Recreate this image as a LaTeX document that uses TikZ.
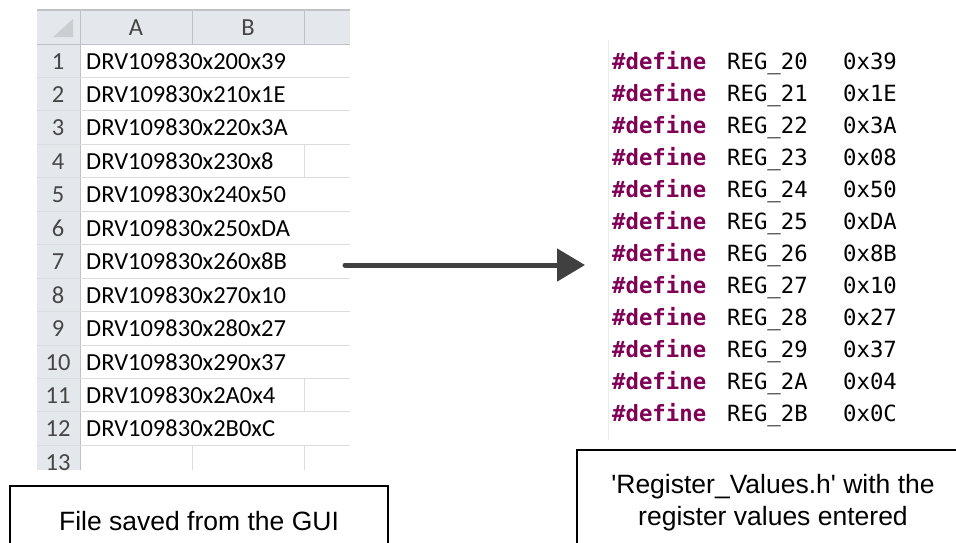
\documentclass[tikz,border=0pt]{standalone}
\usepackage{fontspec}
\newfontfamily\boxfont{Liberation Sans}
\newfontfamily\cellfont{Carlito}
\newfontfamily\codefont{DejaVu Sans Mono}
\usetikzlibrary{arrows.meta}
\definecolor{hdrgray}{RGB}{228,231,236}
\definecolor{gridgray}{RGB}{218,220,222}
\definecolor{sepgray}{RGB}{190,193,198}
\definecolor{numgray}{RGB}{70,70,70}
\definecolor{defpurple}{RGB}{127,0,85}
\definecolor{arrowgray}{RGB}{64,64,64}
\begin{document}
\begin{tikzpicture}
% 1 unit = 1 px of the 956x542 picture, y runs down
[x=1pt,y=-1pt,
 cell/.style={font=\cellfont\fontsize{24.5}{26}\selectfont,anchor=base west,inner sep=0pt},
 rownum/.style={font=\cellfont\fontsize{24.5}{26}\selectfont,text=numgray,anchor=base,inner sep=0pt},
 code/.style={font=\codefont\fontsize{22.3}{24}\selectfont,anchor=base west,inner sep=0pt},
 label/.style={draw,line width=1.3pt,font=\boxfont\fontsize{26.5}{32}\selectfont,align=center,inner sep=0pt},
 flow/.style={arrowgray,line width=5pt,line cap=round,-{Triangle[length=28pt,width=32pt]}}]
\useasboundingbox (0,0) rectangle (956,542);
\clip (0,0) rectangle (956,542);
% header and row number column
\fill[hdrgray] (37,10) rectangle (350,44);
\fill[hdrgray] (37,44) rectangle (80,470);
\fill[sepgray!80] (53,37) -- (73,37) -- (73,19) -- cycle;
\draw[sepgray,line width=1.2pt] (37,10) -- (350,10);
\draw[sepgray,line width=1pt] (37,44) -- (350,44);
\foreach \xc in {80,192,304}
  \draw[sepgray,line width=1pt] (\xc,10) -- (\xc,44);
\draw[sepgray,line width=1pt] (80,44) -- (80,470);
\node[rownum] (colA) at (136,35) {A};
\node[rownum] (colB) at (248,35) {B};
% rows: 44 = top of row 1, 33.45 = row height, 25 = baseline offset
\foreach \n/\txt in {1/DRV109830x200x39,2/DRV109830x210x1E,3/DRV109830x220x3A,
  4/DRV109830x230x8,5/DRV109830x240x50,6/DRV109830x250xDA,7/DRV109830x260x8B,
  8/DRV109830x270x10,9/DRV109830x280x27,10/DRV109830x290x37,11/DRV109830x2A0x4,
  12/DRV109830x2B0xC}{
  \pgfmathsetmacro\ytop{44+33.45*(\n-1)}
  \draw[gridgray,line width=1pt] (37,\ytop+33.45) -- (350,\ytop+33.45);
  \node[rownum] (num\n) at (58,\ytop+25) {\n};
  \node[cell] (cell\n) at (86,\ytop+25) {\txt};
}
% short texts leave the C border visible
\foreach \n in {4,11}
  \draw[gridgray,line width=1pt] (304,{44+33.45*(\n-1)}) -- ++(0,33.45);
\node[rownum] (num13) at (58,470.4) {13};
\draw[gridgray,line width=1pt] (192,445.4) -- (192,470);
\draw[gridgray,line width=1pt] (304,445.4) -- (304,470);
% editor margin
\draw[gray!15,line width=1pt] (608,40) -- (608,440);
% code lines: 69 = first baseline, 32 = line step
\foreach \k/\reg/\val in {0/20/0x39,1/21/0x1E,2/22/0x3A,3/23/0x08,4/24/0x50,
  5/25/0xDA,6/26/0x8B,7/27/0x10,8/28/0x27,9/29/0x37,10/2A/0x04,11/2B/0x0C}{
  \pgfmathsetmacro\yb{69+32*\k}
  \node[code,text=defpurple] (def\k) at (612,\yb) {\bfseries\#define};
  \node[code] (reg\k) at (727,\yb) {REG\_\reg};
  \node[code] (val\k) at (843,\yb) {\val};
}
% arrow from the sheet to the header file
\coordinate (src) at (345,265);
\coordinate (dst) at (585,265);
\draw[flow] (src) -- (dst);
% captions, bottom edges run off the page
\node[label,minimum width=378pt,minimum height=70pt] (guibox) at (199,521) {File saved from the GUI};
\node[label,minimum width=392pt,minimum height=106pt] (hbox) at (773,503)
  {'Register\_Values.h' with the\\register values entered};
\end{tikzpicture}
\end{document}
